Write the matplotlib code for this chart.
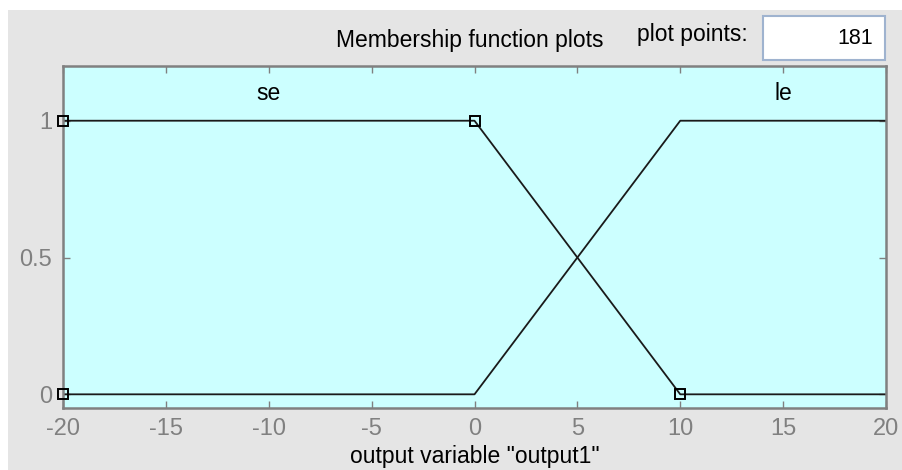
import matplotlib.pyplot as plt
import matplotlib.patches as patches

plt.rcParams['font.family'] = ['Liberation Sans', 'DejaVu Sans']

# membership functions of output1
se_x = [-20, -20, 0, 10, 20]
se_y = [0, 1, 1, 0, 0]
le_x = [-20, 0, 10, 20]
le_y = [0, 0, 1, 1]
# vertices of the selected MF (se)
sel_x = [-20, -20, 0, 10]
sel_y = [0, 1, 1, 0]
mf_names = ['se', 'le']
mf_centers = [-10, 15]
x_ticks = [-20, -15, -10, -5, 0, 5, 10, 15, 20]
y_ticks = [0, 0.5, 1]
y_tick_labels = ['0', '0.5', '1']
plot_points = 181

fig = plt.figure(figsize=(9.02, 4.70), dpi=100, facecolor='white')
# grey panel behind everything
fig.patches.append(patches.Rectangle((8 / 902, 0), 1, 460 / 470, transform=fig.transFigure,
                                     facecolor='#e5e5e5', edgecolor='none', zorder=-10))

ax = fig.add_axes([63 / 902, 62 / 470, 823 / 902, 342 / 470])
ax.set_facecolor('#ccffff')

ax.plot(se_x, se_y, color='#1a1a1a', linewidth=1.3, zorder=2)
ax.plot(le_x, le_y, color='#1a1a1a', linewidth=1.3, zorder=2)
ax.plot(sel_x, sel_y, linestyle='none', marker='s', markersize=7.5,
        markerfacecolor='none', markeredgecolor='black', markeredgewidth=1.4,
        clip_on=False, zorder=4)

for name, cx in zip(mf_names, mf_centers):
    ax.text(cx, 1.1, name, ha='center', va='center', fontsize=16.5, color='black')

ax.set_xlim(-20, 20)
ax.set_ylim(-0.05, 1.2)
ax.set_xticks(x_ticks)
ax.set_xticklabels([str(t) for t in x_ticks])
ax.set_yticks(y_ticks)
ax.set_yticklabels(y_tick_labels)
ax.tick_params(direction='in', length=5, width=1, color='#808080', labelcolor='#808080',
               labelsize=17, top=True, right=True)
ax.tick_params(axis='x', pad=7)
ax.tick_params(axis='y', pad=8)
for sp in ax.spines.values():
    sp.set_color('#808080')
    sp.set_linewidth(1.8)

ax.set_xlabel('output variable "output1"', fontsize=16.5, color='black', labelpad=4)

fig.text(470 / 902, 1 - 40 / 470, 'Membership function plots', ha='center', va='center',
         fontsize=16.5, color='black')
fig.text(692 / 902, 1 - 34 / 470, 'plot points:', ha='center', va='center',
         fontsize=16.5, color='black')
fig.patches.append(patches.Rectangle((763 / 902, 1 - 60 / 470), 122 / 902, 44 / 470,
                                     transform=fig.transFigure, facecolor='white',
                                     edgecolor='#9fb3cf', linewidth=1.5))
fig.text(873 / 902, 1 - 38 / 470, str(plot_points), ha='right', va='center',
         fontsize=15.5, color='black')

fig.savefig('out.png', dpi=100, facecolor='white')
